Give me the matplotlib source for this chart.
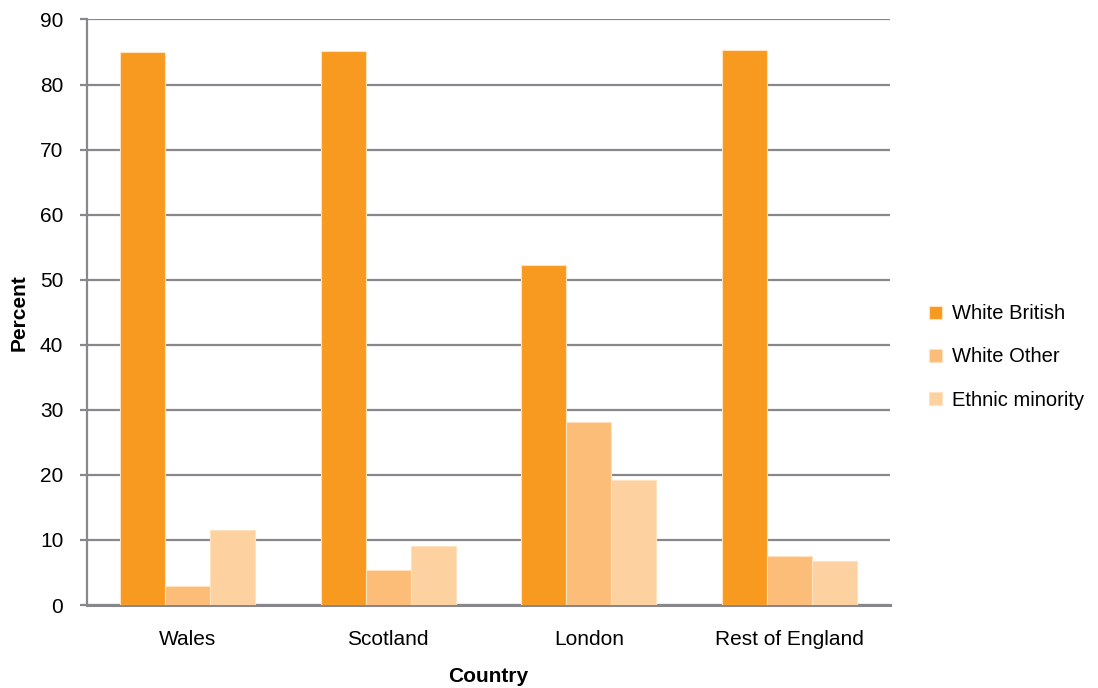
import matplotlib.pyplot as plt
import numpy as np

plt.rcParams['font.family'] = ['Liberation Sans', 'DejaVu Sans']

countries = ["Wales", "Scotland", "London", "Rest of England"]
white_british = [85.0, 85.1, 52.2, 85.3]
white_other = [3.0, 5.4, 28.2, 7.6]
ethnic_minority = [11.5, 9.1, 19.2, 6.8]

series = [("White British", white_british, "#F89A1F"),
          ("White Other", white_other, "#FBBD77"),
          ("Ethnic minority", ethnic_minority, "#FDD2A0")]

fig = plt.figure(figsize=(10.98, 6.88), dpi=100)
ax = fig.add_axes([0.0792, 0.1206, 0.7314, 0.8511])

x = np.arange(len(countries))
width = 0.224
for i, (name, vals, color) in enumerate(series):
    ax.bar(x + (i - 1) * width, vals, width, color=color, label=name,
           edgecolor="#FFE3C0", linewidth=0.8, zorder=3)

ax.set_xlim(-0.5, len(countries) - 0.5)
ax.set_ylim(0, 90)
ax.set_yticks(np.arange(0, 91, 10))
ax.set_xticks(x)
ax.set_xticklabels(countries)
ax.yaxis.grid(True, color="#88888c", linewidth=1.6, zorder=0)
ax.set_axisbelow(True)

for side in ["top", "right"]:
    ax.spines[side].set_visible(False)
ax.spines["left"].set_color("#88888c")
ax.spines["left"].set_linewidth(1.6)
ax.spines["bottom"].set_color("#88888c")
ax.spines["bottom"].set_linewidth(2.2)
ax.tick_params(axis="y", length=5, width=1.6, color="#88888c", labelsize=15, pad=12)
ax.tick_params(axis="x", length=0, labelsize=15, pad=18)

ax.set_ylabel("Percent", fontsize=15, fontweight="bold", labelpad=8)
ax.set_xlabel("Country", fontsize=15, fontweight="bold", labelpad=13)

leg = fig.legend(loc="upper left", bbox_to_anchor=(0.830, 0.584), frameon=False,
                 fontsize=14.5, handlelength=0.62, handleheight=0.62,
                 labelspacing=1.2, handletextpad=0.5)

fig.savefig("out.png", dpi=100)
